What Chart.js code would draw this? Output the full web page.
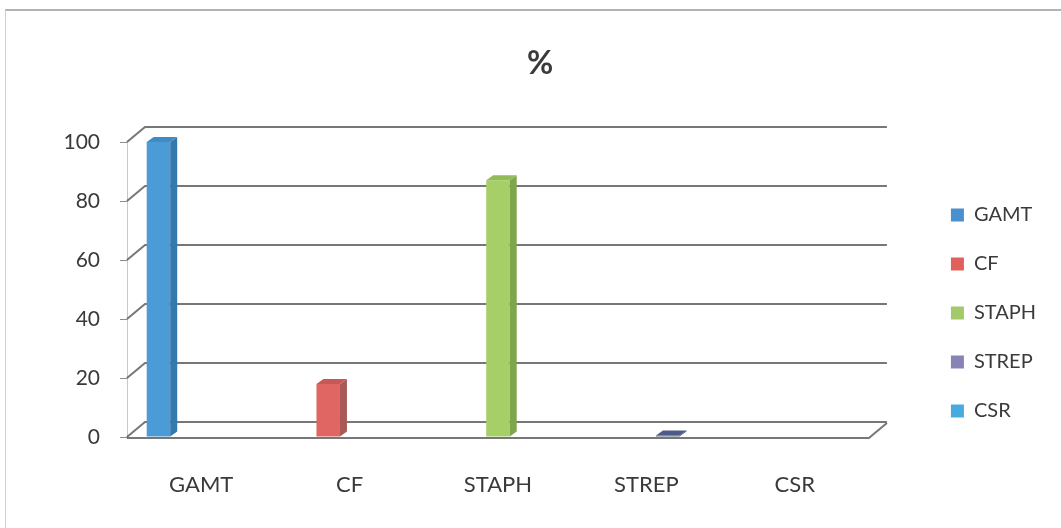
<!DOCTYPE html>
<html>
<head>
<meta charset="utf-8">
<script src="https://cdn.jsdelivr.net/npm/chart.js@4.4.1/dist/chart.umd.min.js"></script>
<style>
  html, body { margin: 0; padding: 0; background: #fff; overflow: hidden; }
  #wrap { position: relative; width: 1061px; height: 528px; }
  #frame {
    position: absolute; left: 5px; top: 9px; right: -20px; bottom: -20px;
    border-top: 2px solid #b3b3b3; border-left: 1px solid #d0d0d0;
    pointer-events: none;
  }
  canvas { position: absolute; left: 0; top: 0; }
</style>
</head>
<body>
<div id="wrap">
  <canvas id="chart" width="1061" height="528"></canvas>
  <div id="frame"></div>
</div>
<script>
// Categories (also used as series names in the legend)
const categories = ['GAMT', 'CF', 'STAPH', 'STREP', 'CSR'];
// Percentage for each category
const values = [100, 18, 87, 0.5, 0];
// Y axis ticks
const yTicks = [0, 20, 40, 60, 80, 100];

// Colours: front face, side face, top face, legend swatch
const frontColors  = ['#4a9bd6', '#df6662', '#a7cf68', '#5d6a93', '#46ace0'];
const sideColors   = ['#3479ad', '#a85a57', '#7fa64c', '#47527a', '#2f86b5'];
const topColors    = ['#3f8cc4', '#c75955', '#92bc58', '#4e5b86', '#3b9bcc'];
const legendColors = ['#4a8fcf', '#e0605c', '#a3c96a', '#8784b5', '#46ace0'];

const FONT = 'Lato, "Open Sans", "Liberation Sans", sans-serif';
const TEXT = '#3a3a3a';

// Back wall, floor and bar extrusion for the 3D look
const depth3d = {
  id: 'depth3d',
  beforeDatasetsDraw(chart, args, o) {
    const { ctx, chartArea: a, scales: { y } } = chart;
    ctx.save();
    ctx.strokeStyle = o.gridColor;
    ctx.lineWidth = o.gridWidth;
    yTicks.forEach(v => {
      const py = y.getPixelForValue(v);
      ctx.beginPath();
      ctx.moveTo(a.left, py);
      ctx.lineTo(a.left + o.wallDx, py - o.wallDy);
      ctx.lineTo(a.right + o.wallDx, py - o.wallDy);
      ctx.stroke();
    });
    // floor: front edge and right side
    ctx.beginPath();
    ctx.moveTo(a.left, a.bottom + 1);
    ctx.lineTo(a.right, a.bottom + 1);
    ctx.lineTo(a.right + o.wallDx, a.bottom + 1 - o.wallDy);
    ctx.stroke();
    ctx.restore();
  },
  afterDatasetsDraw(chart, args, o) {
    const { ctx } = chart;
    ctx.save();
    chart.data.datasets.forEach((ds, i) => {
      const meta = chart.getDatasetMeta(i);
      meta.data.forEach((bar, j) => {
        const v = ds.data[j];
        if (v == null || v <= 0) return;
        const { x, y, base, width } = bar.getProps(['x', 'y', 'base', 'width'], true);
        const l = x - width / 2, r = x + width / 2;
        const dx = o.barDx, dy = o.barDy;
        // side face
        ctx.fillStyle = sideColors[i];
        ctx.beginPath();
        ctx.moveTo(r, y);
        ctx.lineTo(r + dx, y - dy);
        ctx.lineTo(r + dx, base - dy);
        ctx.lineTo(r, base);
        ctx.closePath();
        ctx.fill();
        // top face
        ctx.fillStyle = topColors[i];
        ctx.beginPath();
        ctx.moveTo(l, y);
        ctx.lineTo(l + dx, y - dy);
        ctx.lineTo(r + dx, y - dy);
        ctx.lineTo(r, y);
        ctx.closePath();
        ctx.fill();
      });
    });
    ctx.restore();
  }
};

const datasets = categories.map((name, i) => ({
  label: name,
  data: categories.map((_, j) => (j === i ? values[i] : null)),
  backgroundColor: frontColors[i],
  borderWidth: 0,
  categoryPercentage: 0.72,
  barPercentage: 1.1
}));

new Chart(document.getElementById('chart'), {
  type: 'bar',
  data: { labels: categories, datasets },
  plugins: [depth3d],
  options: {
    responsive: false,
    animation: false,
    devicePixelRatio: 1,
    layout: { padding: { left: 34, right: 15, top: 0, bottom: 0 } },
    scales: {
      x: {
        type: 'category',
        offset: true,
        grid: { display: false },
        border: { display: false },
        ticks: { color: TEXT, font: { family: FONT, size: 22 }, padding: 27 },
        afterFit: s => { s.height = 91; }
      },
      y: {
        position: 'left',
        min: 0, max: 100,
        afterBuildTicks: s => { s.ticks = yTicks.map(v => ({ value: v })); },
        grid: { drawOnChartArea: false, drawTicks: true, tickLength: 7, color: '#8c8c8c', lineWidth: 1 },
        border: { display: true, color: '#c8c8c8', width: 1 },
        ticks: { color: TEXT, font: { family: FONT, size: 21 }, padding: 20 },
        afterFit: s => { s.width = 93; }
      },
      yr: {
        position: 'right',
        display: true,
        grid: { display: false },
        border: { display: false },
        ticks: { display: false },
        afterFit: s => { s.width = 53; }
      }
    },
    plugins: {
      tooltip: { enabled: false },
      title: {
        display: true,
        text: '%',
        color: '#3a3a3a',
        font: { family: FONT, size: 32, weight: 'bold', lineHeight: 1.2 },
        padding: { top: 44, bottom: 59.6 }
      },
      legend: {
        position: 'right',
        fullSize: true,
        align: 'center',
        title: { display: true, text: ' ', font: { size: 10, lineHeight: 1.2 }, padding: { top: 86, bottom: 0 } },
        labels: {
          boxWidth: 13,
          boxHeight: 13,
          padding: 29,
          color: TEXT,
          font: { family: FONT, size: 20 },
          generateLabels: chart =>
            Chart.defaults.plugins.legend.labels.generateLabels(chart).map((it, i) => ({
              ...it, fillStyle: legendColors[i], strokeStyle: legendColors[i], lineWidth: 0
            }))
        }
      },
      depth3d: { gridColor: 'rgba(85,85,85,0.8)', gridWidth: 2, wallDx: 18, wallDy: 15, barDx: 7, barDy: 5 }
    }
  }
});
</script>
</body>
</html>
